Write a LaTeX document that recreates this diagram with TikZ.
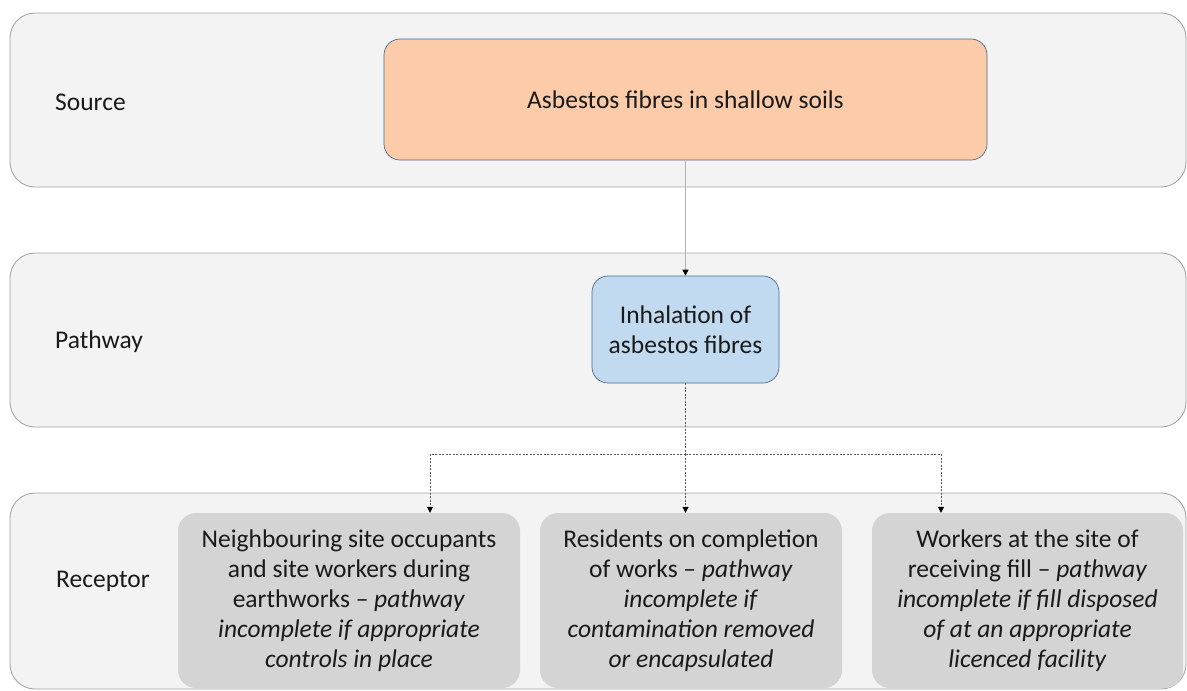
\documentclass[tikz,border=0pt]{standalone}
\usepackage{fontspec}
\setmainfont{Carlito}
\usetikzlibrary{arrows.meta}
\definecolor{bandfill}{HTML}{F3F3F3}
\definecolor{bandline}{HTML}{A6A6A6}
\definecolor{srcfill}{HTML}{FBCBAA}
\definecolor{srcline}{HTML}{4A6A8C}
\definecolor{pwfill}{HTML}{C2DAF0}
\definecolor{recfill}{HTML}{D4D4D4}
\definecolor{txt}{HTML}{1A1A1A}
\tikzset{
  bandbox/.style={draw=bandline, fill=bandfill, rounded corners=25pt, line width=0.9pt, inner sep=0pt},
  srcbox/.style={draw=srcline, fill=srcfill, rounded corners=16pt, line width=0.7pt, inner sep=0pt},
  pwbox/.style={draw=srcline, fill=pwfill, rounded corners=16pt, line width=0.7pt, inner sep=0pt, align=center},
  recbox/.style={fill=recfill, rounded corners=18pt, inner sep=0pt, align=center},
  lbl/.style={anchor=west, inner sep=0pt},
  solidarrow/.style={draw=gray!60, line width=0.7pt, -{Triangle[length=6pt,width=6pt,fill=black,color=black]}},
  dotarrow/.style={draw=gray!70!black, line width=0.8pt, dash pattern=on 2pt off 1.5pt, -{Triangle[length=6pt,width=6pt,fill=black,color=black]}},
  dotline/.style={draw=gray!70!black, line width=0.8pt, dash pattern=on 2pt off 1.5pt}
}
\begin{document}
\begin{tikzpicture}[x=1pt,y=-1pt,font=\fontsize{25.5}{30}\selectfont\color{txt}]
\useasboundingbox (0,0) rectangle (1187,691);
\fill[white] (0,0) rectangle (1187,691);
% bands
\node[bandbox, minimum width=1176pt, minimum height=174pt] (srcband) at (598,100) {};
\node[bandbox, minimum width=1176pt, minimum height=174pt] (pwband) at (598,340) {};
\node[bandbox, minimum width=1176pt, minimum height=196pt] (recband) at (598,591) {};
% labels
\node[lbl] (srclbl) at (55,102) {Source};
\node[lbl] (pwlbl) at (55,342) {Pathway};
\node[lbl] (reclbl) at (56,581) {Receptor};
% boxes
\node[srcbox, minimum width=603pt, minimum height=121pt] (src) at (685.5,99.5) {Asbestos fibres in shallow soils};
\node[pwbox, minimum width=187pt, minimum height=107pt] (pw) at (685.5,329.5) {Inhalation of\\asbestos fibres};
\node[recbox, minimum width=342pt, minimum height=175pt] (r1) at (349,600.5) {Neighbouring site occupants\\and site workers during\\earthworks -- \textit{pathway}\\\textit{incomplete if appropriate}\\\textit{controls in place}};
\node[recbox, minimum width=302pt, minimum height=175pt] (r2) at (691,600.5) {Residents on completion\\of works -- \textit{pathway}\\\textit{incomplete if}\\\textit{contamination removed}\\\textit{or encapsulated}};
\node[recbox, minimum width=311pt, minimum height=175pt] (r3) at (1027.5,600.5) {Workers at the site of\\receiving fill -- \textit{pathway}\\\textit{incomplete if fill disposed}\\\textit{of at an appropriate}\\\textit{licenced facility}};
% connectors
\draw[solidarrow] (src.south) -- (pw.north);
\coordinate (split) at (685.5,454);
\draw[dotline] (pw.south) -- (split);
\draw[dotarrow] (split) -| ([xshift=81pt]r1.north);
\draw[dotarrow] (split) -- (r2.north -| split);
\draw[dotarrow] (split) -| ([xshift=-86.5pt]r3.north);
\end{tikzpicture}
\end{document}
